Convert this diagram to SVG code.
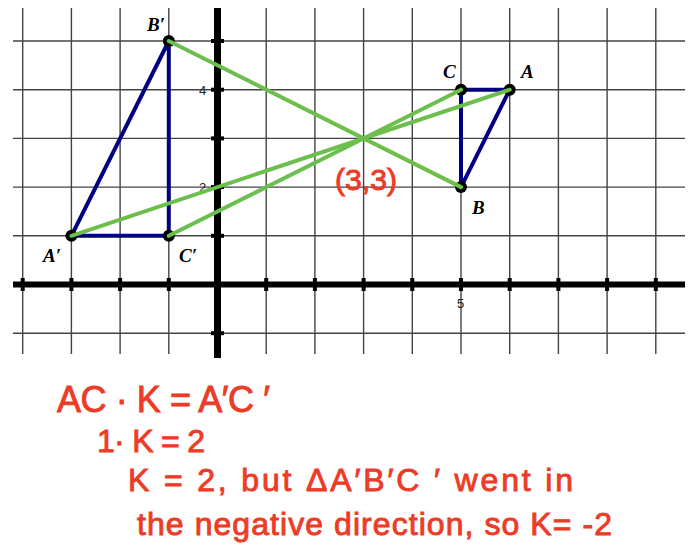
<svg xmlns="http://www.w3.org/2000/svg" width="694" height="548" viewBox="0 0 694 548">
<style>
.grid{stroke:#444;stroke-width:1.4;fill:none}
.axis{stroke:#000;fill:none}
.tick{fill:#000}
.num{font-family:"Liberation Sans",Arial,sans-serif;font-size:13px;fill:#222}
.tri{stroke:#000080;stroke-width:4;fill:none;stroke-linejoin:round}
.seg{stroke:#6cbf4c;stroke-width:4;stroke-linecap:round}
.pt{fill:#000}
.lbl{font-family:"Liberation Serif","Times New Roman",serif;font-size:19px;font-weight:bold;font-style:italic;fill:#000}
.hw{font-family:"Liberation Sans",Arial,sans-serif;fill:#ec3b26;stroke:#ec3b26;stroke-width:0.9}
</style>
<rect width="694" height="548" fill="#fff"/>
<g id="grid">
<path class="grid" d="M22.7 8V354M71.4 8V354M120.1 8V354M168.8 8V354M266.2 8V354M314.9 8V354M363.6 8V354M412.3 8V354M461 8V354M509.7 8V354M558.4 8V354M607.1 8V354M655.8 8V354"/>
<path class="grid" d="M13 41H685M13 89.7H685M13 138.4H685M13 187.1H685M13 235.8H685M13 333.2H685"/>
</g>
<g id="axes">
<line class="axis" x1="13" y1="284.5" x2="685" y2="284.5" stroke-width="6"/>
<line class="axis" x1="217.5" y1="8" x2="217.5" y2="358" stroke-width="7"/>
<g class="tick">
<rect x="20.7" y="278" width="4" height="13"/><rect x="69.4" y="278" width="4" height="13"/><rect x="118.1" y="278" width="4" height="13"/><rect x="166.8" y="278" width="4" height="13"/><rect x="264.2" y="278" width="4" height="13"/><rect x="312.9" y="278" width="4" height="13"/><rect x="361.6" y="278" width="4" height="13"/><rect x="410.3" y="278" width="4" height="13"/><rect x="459" y="278" width="4" height="13"/><rect x="507.7" y="278" width="4" height="13"/><rect x="556.4" y="278" width="4" height="13"/><rect x="605.1" y="278" width="4" height="13"/><rect x="653.8" y="278" width="4" height="13"/>
<rect x="211" y="39" width="13" height="4"/><rect x="211" y="87.7" width="13" height="4"/><rect x="211" y="136.4" width="13" height="4"/><rect x="211" y="185.1" width="13" height="4"/><rect x="211" y="233.8" width="13" height="4"/><rect x="211" y="331.2" width="13" height="4"/>
</g>
<text class="num" x="199" y="95">4</text>
<text class="num" x="199" y="192">2</text>
<text class="num" x="457" y="308">5</text>
</g>
<g id="triangle-ABC">
<polygon class="tri" points="509.7,89.7 461,89.7 461,187.1"/>
</g>
<g id="triangle-A1B1C1">
<polygon class="tri" points="71.4,235.8 168.8,41 168.8,235.8"/>
</g>
<g id="points">
<circle class="pt" cx="509.7" cy="89.7" r="6"/>
<circle class="pt" cx="461" cy="89.7" r="6"/>
<circle class="pt" cx="461" cy="187.1" r="6"/>
<circle class="pt" cx="71.4" cy="235.8" r="6"/>
<circle class="pt" cx="168.8" cy="41" r="6"/>
<circle class="pt" cx="168.8" cy="235.8" r="6"/>
</g>
<g id="connectors">
<line class="seg" x1="168.8" y1="41" x2="461" y2="187.1"/>
<line class="seg" x1="71.4" y1="235.8" x2="509.7" y2="89.7"/>
<line class="seg" x1="168.8" y1="235.8" x2="461" y2="89.7"/>
</g>
<g id="labels">
<text class="lbl" x="147" y="31">B′</text>
<text class="lbl" x="443" y="78">C</text>
<text class="lbl" x="521" y="78">A</text>
<text class="lbl" x="472" y="214">B</text>
<text class="lbl" x="43" y="262">A′</text>
<text class="lbl" x="179" y="262">C′</text>
</g>
<g id="notes">
<text class="hw" x="335" y="190" font-size="30" textLength="62" lengthAdjust="spacingAndGlyphs">(3,3)</text>
<text class="hw" x="57" y="412" font-size="36" textLength="213" lengthAdjust="spacing">AC · K = A′C ′</text>
<text class="hw" x="97" y="452" font-size="32" textLength="108" lengthAdjust="spacing">1· K = 2</text>
<text class="hw" x="128" y="491" font-size="32" textLength="445" lengthAdjust="spacing">K = 2, but ΔA′B′C ′ went in</text>
<text class="hw" x="137" y="535" font-size="32" textLength="475" lengthAdjust="spacing">the negative direction, so K= -2</text>
</g>
</svg>
